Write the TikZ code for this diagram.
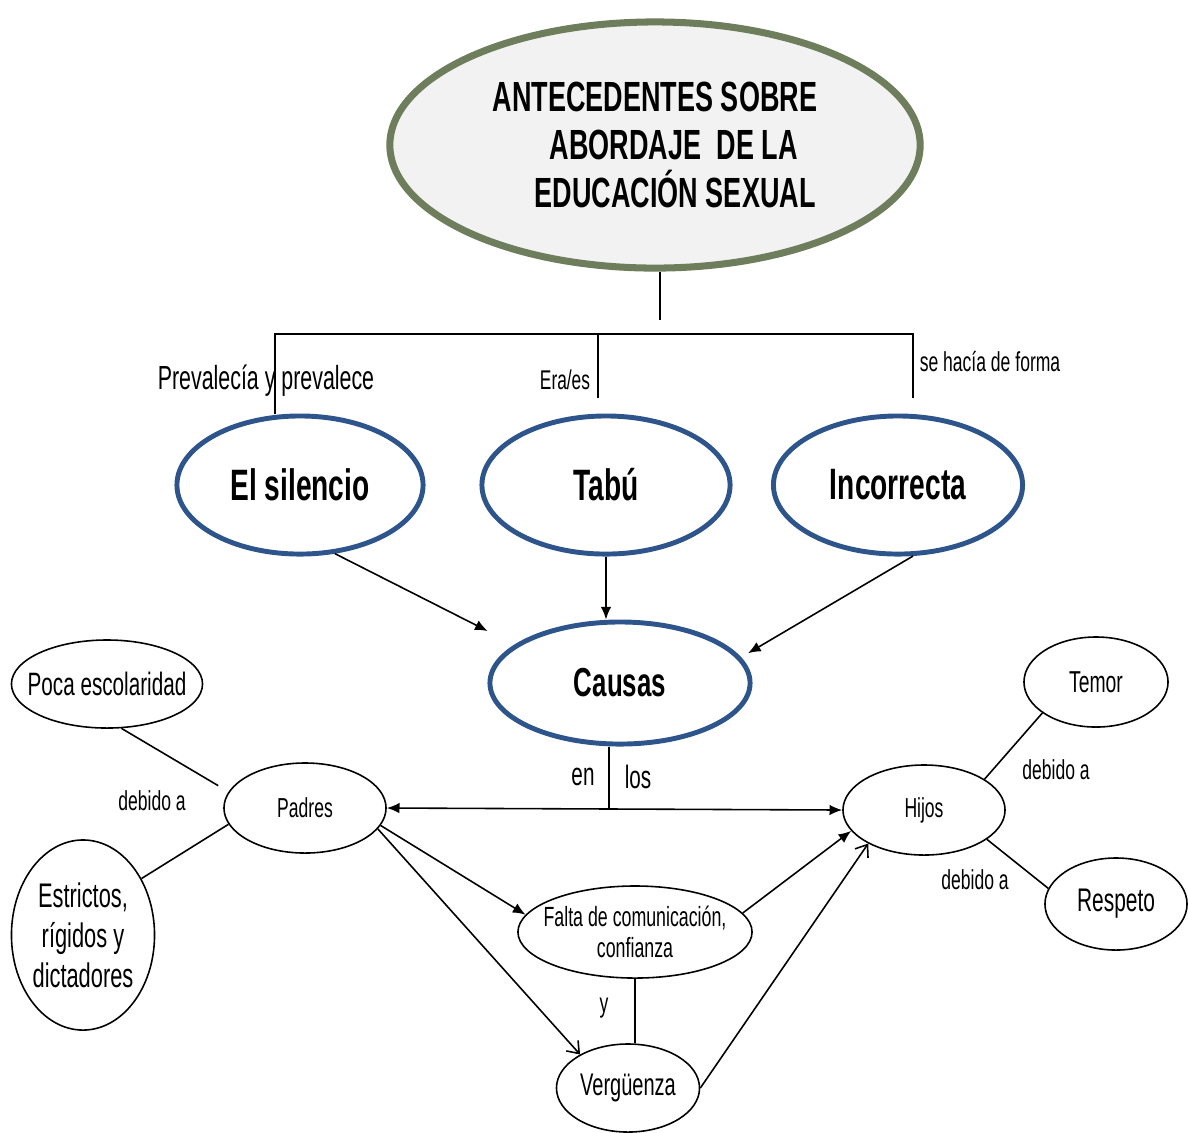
\documentclass[tikz,border=0pt]{standalone}
\usepackage{fontspec}
\setmainfont{Liberation Sans}[FakeStretch=0.64]
\usetikzlibrary{shapes.geometric,arrows.meta}
\definecolor{olivegray}{RGB}{110,125,92}
\definecolor{titlefill}{RGB}{242,242,242}
\definecolor{darkblue}{RGB}{46,84,140}

\begin{document}
\begin{tikzpicture}
  [x=0.01cm,y=-0.01cm,line width=0.45pt]
  \tikzstyle{oval} = [ellipse,draw,inner sep=0pt,line width=0.45pt]
  \tikzstyle{blueoval} = [ellipse,draw=darkblue,line width=1.4pt,fill=white,inner sep=0pt,font=\fontsize{12.5}{14}\selectfont\bfseries]
  \tikzstyle{lbl} = [inner sep=0pt,font=\fontsize{7.8}{9}\selectfont]
  \tikzstyle{arr} = [-{Latex[length=3.6pt,width=3pt]}]
  \tikzstyle{openarr} = [-{Straight Barb[length=3pt,width=4.5pt]}]
  \useasboundingbox (0,0) rectangle (1188,1132);

  % title
  \node[ellipse,draw=olivegray,line width=2pt,fill=titlefill,minimum width=5.3cm,minimum height=2.46cm,inner sep=0pt,align=left,font=\fontsize{12}{13.7}\selectfont\bfseries] (title) at (655,145) {ANTECEDENTES SOBRE\\\hspace*{0.57cm}ABORDAJE\ \ DE LA\\\hspace*{0.42cm}EDUCACIÓN SEXUAL};

  % first level
  \node[blueoval,minimum width=2.46cm,minimum height=1.38cm] (silencio) at (300,485) {El silencio};
  \node[blueoval,minimum width=2.48cm,minimum height=1.38cm] (tabu) at (606,485) {Tabú};
  \node[blueoval,minimum width=2.49cm,minimum height=1.38cm] (incorrecta) at (898,485) {Incorrecta};
  \node[blueoval,minimum width=2.6cm,minimum height=1.22cm,font=\fontsize{11.5}{13}\selectfont\bfseries] (causas) at (620,683) {Causas};

  % second level
  \node[oval,minimum width=1.62cm,minimum height=0.9cm,font=\fontsize{7.8}{9}\selectfont] (padres) at (305,808) {Padres};
  \node[oval,minimum width=1.62cm,minimum height=0.9cm,font=\fontsize{7.8}{9}\selectfont] (hijos) at (924,810) {Hijos};
  \node[oval,minimum width=1.91cm,minimum height=0.88cm,inner xsep=-0.13cm,font=\fontsize{9.2}{11}\selectfont] (poca) at (107,684) {Poca escolaridad};
  \node[oval,minimum width=1.43cm,minimum height=1.9cm,align=center,font=\fontsize{9.7}{11.4}\selectfont] (estrictos) at (83,935) {Estrictos,\\rígidos y\\dictadores};
  \node[oval,minimum width=1.44cm,minimum height=0.9cm,font=\fontsize{8.6}{10}\selectfont] (temor) at (1096,682) {Temor};
  \node[oval,minimum width=1.42cm,minimum height=0.92cm,font=\fontsize{9.3}{11}\selectfont] (respeto) at (1116,904) {Respeto};
  \node[oval,minimum width=2.34cm,minimum height=0.92cm,inner xsep=-0.1cm,align=center,font=\fontsize{7.9}{8.8}\selectfont] (falta) at (635,932) {Falta de comunicación,\\confianza};
  \node[oval,minimum width=1.43cm,minimum height=0.88cm,font=\fontsize{8.9}{10}\selectfont] (vergu) at (628,1088) {Vergüenza};

  % labels
  \node[lbl,font=\fontsize{9.5}{11}\selectfont] (prev) at (266,381) {Prevalecía y prevalece};
  \node[lbl,font=\fontsize{7.7}{9}\selectfont] (eraes) at (565,380) {Era/es};
  \node[lbl] (forma) at (990,362) {se hacía de forma};
  \node[lbl,font=\fontsize{9.2}{11}\selectfont] (en) at (583,777) {en};
  \node[lbl,font=\fontsize{9.2}{11}\selectfont] (los) at (638,777) {los};
  \node[lbl] (debido1) at (152,801) {debido a};
  \node[lbl] (debido2) at (1056,770) {debido a};
  \node[lbl] (debido3) at (975,880) {debido a};
  \node[lbl] (ylbl) at (604,1008) {y};

  % tree under the title
  \coordinate (stem) at (660,320);
  \coordinate (bl) at (275,334);
  \coordinate (bm) at (598,334);
  \coordinate (br) at (913,334);
  \coordinate (tabuend) at (598,398);
  \coordinate (incend) at (913,398);
  \draw (title.south -| stem) -- (stem);
  \draw (bl |- silencio.north) -- (bl) -- (br) -- (incend);
  \draw (bm) -- (tabuend);

  % towards causas
  \draw[arr,shorten >=0.3cm] (silencio.-63) -- (causas.160);
  \draw[arr] (tabu.south) -- (tabu.south |- causas.north);
  \draw[arr,shorten >=0.08cm] (incorrecta.-78) -- (causas.12);

  \coordinate (enlos) at (609,808);
  \draw (causas.south -| enlos) -- (enlos);
  \draw[{Latex[length=3.6pt,width=3pt]}-{Latex[length=3.6pt,width=3pt]}] (padres.east) -- (hijos.west);

  \draw[arr] (padres.-13) -- (falta.171);
  \draw[openarr] (padres.-16) -- (vergu.145);
  \draw[arr] (falta.10) -- (hijos.-164);
  \draw[openarr] (vergu.east) -- (hijos.211);
  \draw (falta.south) -- (falta.south |- vergu.north);

  \draw[shorten >=0.12cm] (poca.-72) -- (padres.168);
  \foreach \source/\dest in {estrictos.44/padres.192,hijos.27/temor.210,hijos.-25/respeto.167}
    \draw (\source) -- (\dest);
\end{tikzpicture}
\end{document}
